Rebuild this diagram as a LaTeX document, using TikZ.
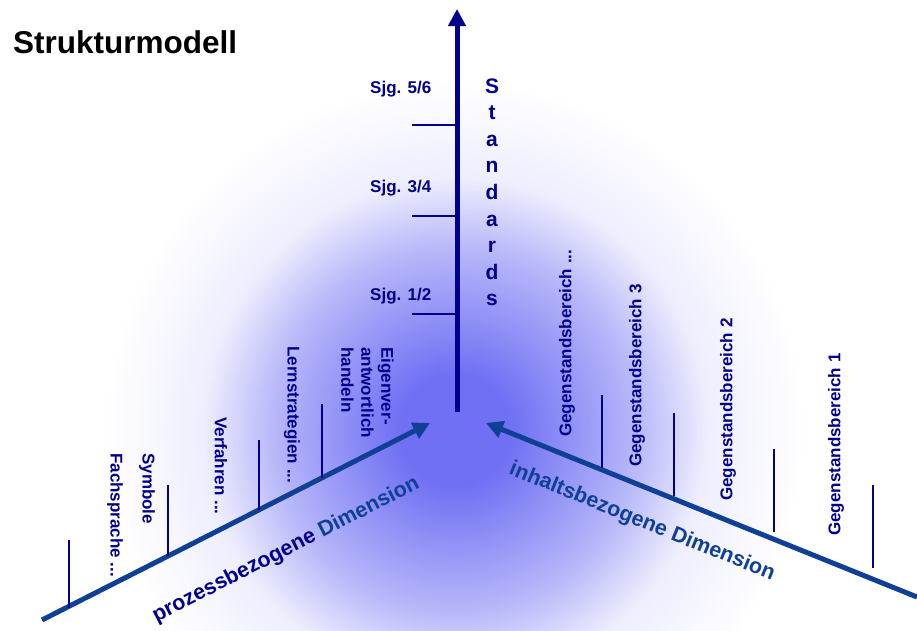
\documentclass[tikz,border=0pt]{standalone}
\usepackage{fontspec}
\setmainfont{Liberation Sans}
\usetikzlibrary{arrows.meta,calc}
\definecolor{stdnavy}{RGB}{0,0,140}
\definecolor{dimblue}{RGB}{16,64,150}
\definecolor{glowc}{RGB}{112,112,244}
\pgfdeclareradialshading{glow}{\pgfpoint{0bp}{0bp}}{color(0bp)=(glowc); color(4bp)=(glowc); color(13bp)=(glowc!50!white); color(18bp)=(glowc!12!white); color(25bp)=(white); color(50bp)=(white)}
\begin{document}
\begin{tikzpicture}[x=1pt,y=-1pt,
    lbl/.style={inner sep=0pt,text=stdnavy,font=\fontsize{17}{20}\selectfont\bfseries},
    tick/.style={stdnavy,line width=1.2pt},
    dimarrow/.style={dimblue,line width=5pt,-{Triangle[length=17pt,width=17pt]}},
    dimlabel/.style={inner sep=0pt,text=dimblue,font=\fontsize{21.5}{24}\selectfont\bfseries}]
    \useasboundingbox (0,0) rectangle (917,630);
    %% background glow
    \begin{scope}
        \clip (0,0) rectangle (917,630);
        \shade[shading=glow] (455,430) circle (350);
    \end{scope}
    %% title
    \node[inner sep=0pt,anchor=base west,font=\fontsize{31.5}{36}\selectfont\bfseries] (title) at (13,53) {Strukturmodell};
    %% axes
    \coordinate (stdFoot) at (457,412);
    \coordinate (stdTip) at (457,9);
    \coordinate (proTail) at (42,620);
    \coordinate (proTip) at (430,423);
    \coordinate (inhTail) at (917,597);
    \coordinate (inhTip) at (486,423);
    \draw[dimarrow,stdnavy] (stdFoot) -- (stdTip);
    \draw[dimarrow] (proTail) -- (proTip);
    \draw[dimarrow] (inhTail) -- (inhTip);
    %% ticks
    \foreach \y in {125,216,314}
        \draw[tick] (412,\y) -- (457,\y);
    \foreach \x/\ya/\yb in {69/540/608,168/485/556,259/440/510,322/404/478}
        \draw[tick] (\x,\ya) -- (\x,\yb);
    \foreach \x/\ya/\yb in {602/395/468,674/413/496,774/449/532,873/485/568}
        \draw[tick] (\x,\ya) -- (\x,\yb);
    %% standards
    \node[lbl,anchor=west] (sjg56) at (370,89) {Sjg. 5/6};
    \node[lbl,anchor=west] (sjg34) at (370,188) {Sjg. 3/4};
    \node[lbl,anchor=west] (sjg12) at (370,296) {Sjg. 1/2};
    \foreach \c [count=\i from 0] in {S,t,a,n,d,a,r,d,s}
        \node[lbl,anchor=base,font=\fontsize{21}{24}\selectfont\bfseries] (std\i) at (492,93+26.6*\i) {\c};
    %% process labels
    \node[lbl,rotate=-90,anchor=west] (fach) at (115,453) {Fachsprache ...};
    \node[lbl,rotate=-90,anchor=west] (sym) at (147,453) {Symbole};
    \node[lbl,rotate=-90,anchor=west] (verf) at (221,417) {Verfahren ...};
    \node[lbl,rotate=-90,anchor=west] (lern) at (292,346) {Lernstrategien ...};
    \node[lbl,rotate=-90,anchor=north west,align=left] (eigen) at (394,347) {Eigenver-\\antwortlich\\handeln};
    %% content labels
    \node[lbl,rotate=90,anchor=west] (geg0) at (567,437) {Gegenstandsbereich ...};
    \node[lbl,rotate=90,anchor=west] (geg3) at (637,467) {Gegenstandsbereich 3};
    \node[lbl,rotate=90,anchor=west] (geg2) at (728,501) {Gegenstandsbereich 2};
    \node[lbl,rotate=90,anchor=west] (geg1) at (836,536) {Gegenstandsbereich 1};
    %% dimensions
    \node[dimlabel,rotate=27] (proDim) at (286,550) {{\color{stdnavy}prozessbezogene} Dimension};
    \node[dimlabel,rotate=-22] (inhDim) at (642,522) {inhaltsbezogene Dimension};
\end{tikzpicture}
\end{document}
